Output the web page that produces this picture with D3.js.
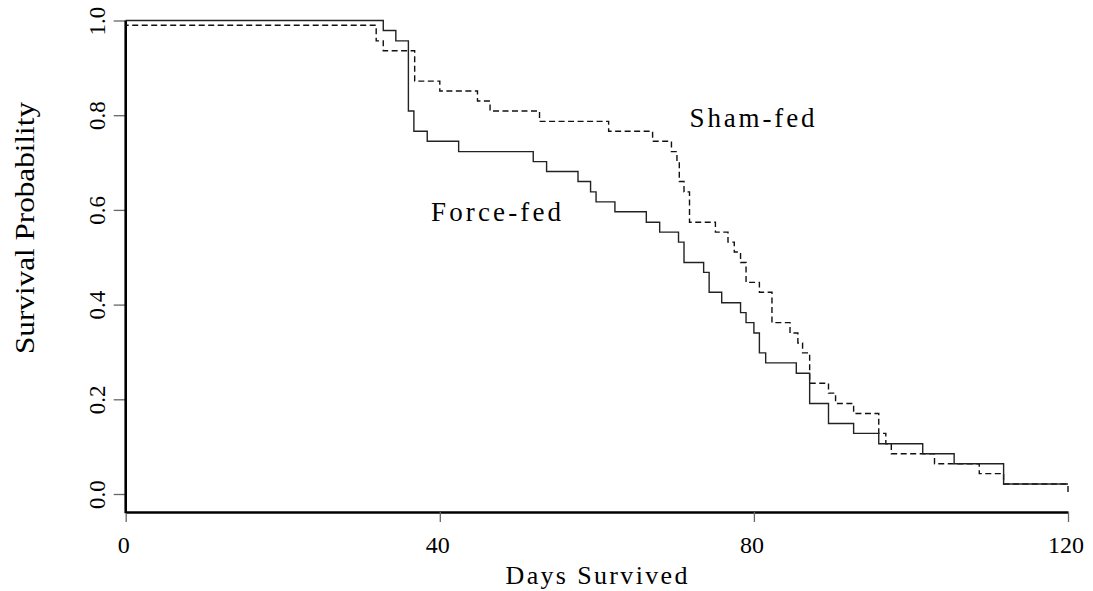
<!DOCTYPE html>
<html>
<head>
<meta charset="utf-8">
<script src="https://cdn.jsdelivr.net/npm/d3@7"></script>
<style>
  html, body { margin: 0; padding: 0; background: #fff; }
  svg { display: block; }
  text { font-family: "Liberation Serif", "Times New Roman", serif; fill: #000; }
</style>
</head>
<body>
<svg id="chart" width="1093" height="591"></svg>
<script>
// ---- data ----
const forceTimes = [0, 32.8, 34.4, 36, 36.7, 38.4, 42.4, 51.9, 53.6, 57.6, 59.2, 59.9, 62.3, 66.3, 68, 70.4, 71.1, 73.6, 74.3, 75.9, 78.3, 79, 80, 80.7, 81.5, 85.4, 87.1, 89.5, 92.7, 95.9, 101.5, 105.5, 111.8, 120];
const forceSurv  = [1.0, 0.979, 0.957, 0.809, 0.766, 0.745, 0.723, 0.702, 0.681, 0.660, 0.638, 0.617, 0.596, 0.574, 0.553, 0.532, 0.489, 0.468, 0.426, 0.404, 0.383, 0.362, 0.340, 0.298, 0.277, 0.255, 0.191, 0.149, 0.128, 0.106, 0.085, 0.064, 0.021, 0.021];
const shamTimes  = [0, 31.9, 32.8, 36.8, 40, 44.8, 46.4, 52.7, 61.5, 67.1, 69.5, 70.2, 70.5, 71.1, 71.8, 75.1, 76.7, 77.5, 78.3, 79, 80.7, 82.3, 84.6, 85.6, 86.2, 87.1, 89.5, 90.4, 92.7, 95.9, 96.8, 97.5, 103, 108.7, 111.8, 120];
const shamSurv   = [0.99, 0.957, 0.936, 0.872, 0.851, 0.830, 0.809, 0.787, 0.766, 0.745, 0.723, 0.702, 0.660, 0.638, 0.574, 0.553, 0.532, 0.511, 0.489, 0.447, 0.426, 0.362, 0.340, 0.319, 0.298, 0.234, 0.213, 0.191, 0.170, 0.128, 0.106, 0.085, 0.064, 0.043, 0.021, 0.0];
const xTicks = [0, 40, 80, 120];
const yTicks = [0.0, 0.2, 0.4, 0.6, 0.8, 1.0];
const xLabel = "Days Survived";
const yLabel = "Survival Probability";
const seriesLabels = ["Force-fed", "Sham-fed"];

// ---- layout ----
const svg = d3.select("#chart");
const x = d3.scaleLinear().domain([0, 120]).range([125.7, 1068]);
const y = d3.scaleLinear().domain([0, 1]).range([494, 20.5]);
const axisY = 512;

// ---- axes ----
const xAxis = d3.axisBottom(x).tickValues(xTicks).tickFormat(d3.format("d"))
  .tickSizeInner(10).tickSizeOuter(0).tickPadding(3);
const gx = svg.append("g").attr("transform", `translate(0,${axisY})`).call(xAxis);
gx.select(".domain").attr("stroke", "#000").attr("stroke-width", 2.6);
gx.selectAll(".tick line").attr("stroke", "#666").attr("stroke-width", 1.3);
gx.selectAll(".tick text").remove();
gx.selectAll(".tick").append("text")
  .attr("x", -2.5).attr("y", 40.5)
  .attr("text-anchor", "middle")
  .style("font-size", "24px")
  .text(d => d3.format("d")(d));

// y axis: tick marks + rotated labels
const yAxis = d3.axisLeft(y).tickValues(yTicks).tickSizeInner(12).tickSizeOuter(0).tickFormat("");
const gy = svg.append("g").attr("transform", `translate(${x(0)},0)`).call(yAxis);
gy.select(".domain").remove();
gy.selectAll(".tick line").attr("stroke", "#666").attr("stroke-width", 1.3);
gy.selectAll(".tick").append("text")
  .attr("transform", "translate(-20.7,0) rotate(-90)")
  .attr("text-anchor", "middle")
  .style("font-size", "23px")
  .text(d => d3.format(".1f")(d));

// y axis line (runs from 1.0 down to the x axis line)
svg.append("line")
  .attr("x1", x(0)).attr("x2", x(0))
  .attr("y1", y(1)).attr("y2", axisY + 1.3)
  .attr("stroke", "#000").attr("stroke-width", 2.6);

// ---- curves ----
const line = d3.line().x(d => x(d[0])).y(d => y(d[1])).curve(d3.curveStepAfter);
const forceData = forceTimes.map((t, i) => [t, forceSurv[i]]);
const shamData = shamTimes.map((t, i) => [t, shamSurv[i]]);

svg.append("path").datum(shamData)
  .attr("d", line)
  .attr("fill", "none")
  .attr("stroke", "#111")
  .attr("stroke-width", 1.4)
  .attr("stroke-dasharray", "6,3.5")
  .attr("stroke-dashoffset", 3);

svg.append("path").datum(forceData)
  .attr("d", line)
  .attr("fill", "none")
  .attr("stroke", "#222")
  .attr("stroke-width", 1.4);

// ---- labels ----
svg.append("text")
  .attr("x", 596.5).attr("y", 584)
  .attr("text-anchor", "middle")
  .attr("textLength", 182)
  .attr("lengthAdjust", "spacing")
  .style("font-size", "26px")
  .text(xLabel);

svg.append("text")
  .attr("transform", `translate(34,228) rotate(-90)`)
  .attr("text-anchor", "middle")
  .attr("textLength", 252)
  .attr("lengthAdjust", "spacingAndGlyphs")
  .style("font-size", "28px")
  .text(yLabel);

svg.append("text")
  .attr("x", 431).attr("y", 221)
  .attr("textLength", 130)
  .attr("lengthAdjust", "spacing")
  .style("font-size", "27px")
  .text(seriesLabels[0]);

svg.append("text")
  .attr("x", 689.5).attr("y", 126.7)
  .attr("textLength", 125)
  .attr("lengthAdjust", "spacing")
  .style("font-size", "27px")
  .text(seriesLabels[1]);
</script>
</body>
</html>
